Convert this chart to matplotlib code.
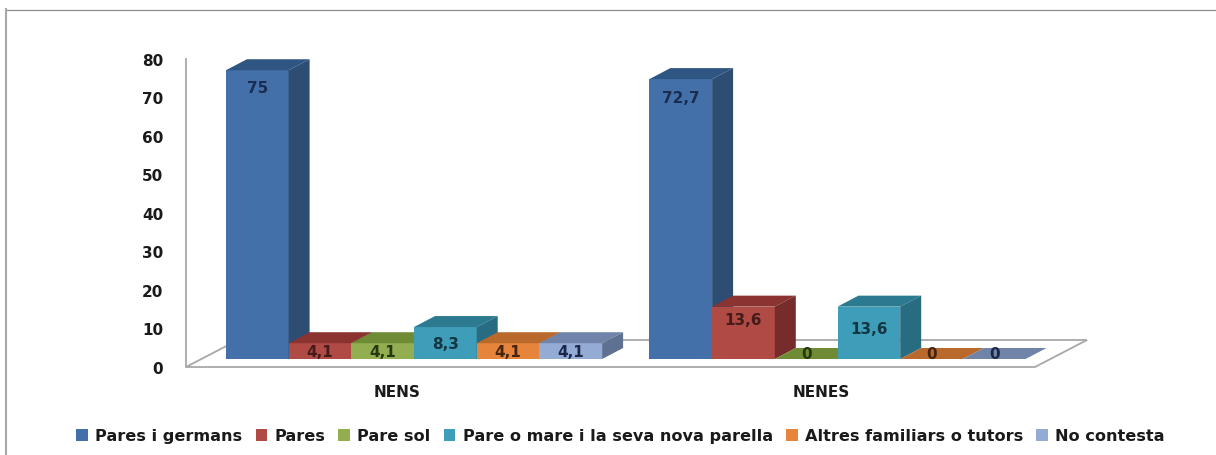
import matplotlib
matplotlib.use('Agg')
import matplotlib.pyplot as plt
from matplotlib.patches import Polygon, Rectangle

# Values
groups = ['NENS', 'NENES']
series = ['Pares i germans', 'Pares', 'Pare sol', 'Pare o mare i la seva nova parella',
          'Altres familiars o tutors', 'No contesta']
nens = [75, 4.1, 4.1, 8.3, 4.1, 4.1]
nenes = [72.7, 13.6, 0, 13.6, 0, 0]
nens_labels = ['75', '4,1', '4,1', '8,3', '4,1', '4,1']
nenes_labels = ['72,7', '13,6', '0', '13,6', '0', '0']
y_ticks = [0, 10, 20, 30, 40, 50, 60, 70, 80]

# Look of the chart
front_colors = ['#4370A8', '#B04A45', '#93AE50', '#3E9DB8', '#E5843A', '#94ABD6']
top_colors = ['#2F5583', '#8A3330', '#6F8B35', '#2C7A90', '#B8692B', '#6F84A8']
side_colors = ['#2E4D72', '#752C2A', '#5E7830', '#276C80', '#A05A24', '#5F7190']
label_color = ['#1A2C50', '#451A1A', '#26360F', '#143643', '#45240E', '#1C2648']

plt.rcParams['font.family'] = 'DejaVu Sans'
plt.rcParams['font.weight'] = 'bold'

W, H = 1216, 456
fig = plt.figure(figsize=(W / 100, H / 100), dpi=100)


def px_box(left, top, right, bottom):
    return [left / W, 1 - bottom / H, (right - left) / W, (bottom - top) / H]


# pixel layout of the plot area
PX_LEFT, PX_RIGHT, PX_TOP, PX_FLOOR = 186, 1087, 60, 368
PX_BASE = 360          # where value 0 of the bars stands
PX_PER_UNIT = 3.85     # height of one value unit
PX_GROUP = 423.5       # distance between the two groups
PX_FIRST = 414         # centre of the first group
BAR_W = 62.7 / PX_GROUP
DEPTH_X = 21 / PX_GROUP
DEPTH_Y = 11 / PX_PER_UNIT

# grey frame, only the top and left sides show
frame = fig.add_axes([0, 0, 1, 1])
frame.set_xlim(0, W)
frame.set_ylim(H, 0)
frame.axis('off')
frame.plot([6, W], [10.5, 10.5], color='#8E8E8E', lw=0.9)
frame.plot([6, 6], [10, H], color='#A8A8A8', lw=1.5)

ax = fig.add_axes(px_box(PX_LEFT, PX_TOP, PX_RIGHT, PX_FLOOR))
ax.set_xlim((PX_LEFT - PX_FIRST) / PX_GROUP, (PX_RIGHT - PX_FIRST) / PX_GROUP)
ax.set_ylim((PX_BASE - PX_FLOOR) / PX_PER_UNIT, (PX_BASE - PX_TOP) / PX_PER_UNIT)
ax.patch.set_alpha(0)
for s in ax.spines.values():
    s.set_visible(False)
ax.set_xticks([])
ax.set_yticks([])

# floor of the 3D box
x0, x1 = ax.get_xlim()
y0, y1 = ax.get_ylim()
floor_dx = 52 / PX_GROUP
floor_dy = 27 / PX_PER_UNIT
floor = Polygon([(x0, y0), (x1 - floor_dx, y0), (x1, y0 + floor_dy), (x0 + floor_dx, y0 + floor_dy)],
                closed=True, fc='white', ec='#A8A8A8', lw=1.3, clip_on=False, zorder=1)
ax.add_patch(floor)

# bars, left to right so each one covers the side of the previous
z = 2
for g, vals in enumerate([nens, nenes]):
    for i, v in enumerate(vals):
        left = g + (i - 3) * BAR_W
        right = left + BAR_W
        ax.bar(left, v, BAR_W, align='edge', color=front_colors[i], zorder=z, clip_on=False)
        ax.add_patch(Polygon([(left, v), (right, v), (right + DEPTH_X, v + DEPTH_Y), (left + DEPTH_X, v + DEPTH_Y)],
                             closed=True, fc=top_colors[i], ec='none', zorder=z, clip_on=False))
        ax.add_patch(Polygon([(right, 0), (right, v), (right + DEPTH_X, v + DEPTH_Y), (right + DEPTH_X, DEPTH_Y)],
                             closed=True, fc=side_colors[i], ec='none', zorder=z, clip_on=False))
        z += 1

# data labels go on top of everything, dropped below the bar top
drops = [[17, 8, 8, 16, 8, 8], [18, 13, -5, 22, -5, -5]]
for g, (vals, labels) in enumerate([(nens, nens_labels), (nenes, nenes_labels)]):
    for i, v in enumerate(vals):
        ax.annotate(labels[i], (g + (i - 2.5) * BAR_W, v), xytext=(0, -drops[g][i] * 0.72),
                    textcoords='offset points', ha='center', va='center', fontsize=11,
                    color=label_color[i], zorder=50)

# left wall carries the value axis
wall = fig.add_axes(px_box(PX_LEFT, PX_TOP, PX_RIGHT, PX_FLOOR))
wall.patch.set_alpha(0)
wall.set_ylim(0, 80)
wall.set_yticks(y_ticks)
wall.set_xticks([])
wall.tick_params(axis='y', length=0, pad=16.5, labelsize=11, labelcolor='#1A1A1A')
for name, s in wall.spines.items():
    s.set_visible(name == 'left')
wall.spines['left'].set_color('#A8A8A8')
wall.spines['left'].set_linewidth(1.3)

# group names sit a little left of the bars
for g, name in enumerate(groups):
    ax.annotate(name, (g, y0), xytext=(-12, -18), textcoords='offset points', ha='center', va='center',
                fontsize=11, color='#1A1A1A', annotation_clip=False)

handles = [Rectangle((0, 0), 1, 1, fc=c) for c in front_colors]
fig.legend(handles, series, ncol=6, loc='center', bbox_to_anchor=(620.5 / W, 1 - 437 / H), frameon=False,
           fontsize=11.6, handlelength=0.72, handleheight=0.72, handletextpad=0.45, columnspacing=0.82,
           labelcolor='#1A1A1A', borderpad=0)

fig.savefig('out.png', dpi=100, facecolor='white')
